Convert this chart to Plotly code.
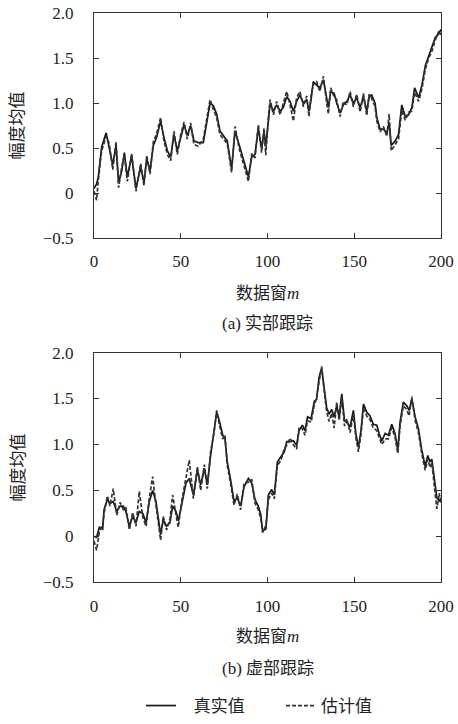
import plotly.graph_objects as go

# ---------------- data ----------------
m_a = [0, 1.5, 2.5, 4.4, 7, 8.8, 10.8, 12.7, 14.2, 16, 17.5, 19.2, 21.7, 24.2, 26.9, 28.8,
       30.4, 32.3, 34.2, 36.1, 38.4, 40.3, 42.3, 44.2, 46.1, 48, 49.9, 51.9, 53.8, 55.7,
       57.6, 60.1, 63, 64.6, 66.9, 68.8, 70.7, 72.6, 74.5, 76.8, 79.3, 81.3, 83.6, 86.1,
       89, 90.9, 92.8, 94.7, 96.6, 98, 99, 100.5, 101.5, 103.4, 105.3, 107.2, 109.1, 111.1,
       113, 114.9, 116.8, 118.7, 120.7, 122.6, 123.9, 125.1, 126.4, 128.3, 130.2, 132.2,
       134.1, 135.1, 136.4, 138.4, 139.9, 141.8, 143.7, 145.7, 147.6, 149.5, 151.4, 153.4,
       155.3, 157.2, 158.6, 160.1, 162, 163, 164.9, 166.8, 168.8, 170.1, 171.3, 173.6,
       175.5, 177.4, 179.4, 181.3, 183.2, 184.8, 187.1, 189, 191, 192.9, 194.8, 196.7,
       198.7, 200]
true_a = [0.05, 0.10, 0.18, 0.51, 0.67, 0.51, 0.31, 0.53, 0.11, 0.25, 0.45, 0.18, 0.41, 0.05,
          0.29, 0.12, 0.38, 0.25, 0.53, 0.62, 0.80, 0.62, 0.47, 0.40, 0.65, 0.47, 0.60, 0.76,
          0.64, 0.75, 0.58, 0.56, 0.56, 0.76, 1.00, 0.97, 0.88, 0.69, 0.64, 0.58, 0.27, 0.69,
          0.54, 0.36, 0.18, 0.40, 0.43, 0.72, 0.50, 0.68, 0.52, 0.80, 1.00, 0.91, 0.98, 0.91,
          0.95, 1.07, 1.02, 0.91, 1.02, 1.09, 1.00, 1.04, 0.91, 1.04, 1.24, 1.20, 1.17, 1.26,
          1.04, 0.95, 1.13, 1.11, 1.00, 0.89, 0.98, 1.02, 1.09, 1.00, 1.06, 0.95, 1.07, 0.91,
          1.07, 1.09, 1.00, 0.84, 0.71, 0.71, 0.67, 0.78, 0.53, 0.58, 0.65, 0.98, 0.85, 0.87,
          0.95, 1.17, 1.06, 1.20, 1.42, 1.53, 1.62, 1.73, 1.77, 1.82]
est_a = [0.02, -0.08, 0.15, 0.47, 0.63, 0.55, 0.26, 0.57, 0.06, 0.29, 0.42, 0.13, 0.44, 0.02,
         0.33, 0.08, 0.42, 0.21, 0.57, 0.66, 0.84, 0.58, 0.43, 0.36, 0.69, 0.43, 0.64, 0.79,
         0.60, 0.78, 0.54, 0.52, 0.60, 0.80, 1.04, 0.93, 0.84, 0.65, 0.60, 0.55, 0.23, 0.74,
         0.50, 0.32, 0.13, 0.44, 0.39, 0.76, 0.45, 0.72, 0.42, 0.84, 1.04, 0.87, 1.02, 0.87,
         0.99, 1.13, 0.98, 0.80, 1.06, 1.13, 0.96, 1.08, 0.85, 1.08, 1.21, 1.24, 1.13, 1.30,
         1.00, 0.88, 1.17, 1.07, 1.04, 0.85, 1.02, 0.98, 1.13, 0.96, 1.10, 0.90, 1.11, 0.86,
         1.10, 1.05, 0.96, 0.80, 0.68, 0.74, 0.63, 0.88, 0.47, 0.54, 0.60, 0.92, 0.81, 0.90,
         0.91, 1.12, 1.02, 1.16, 1.38, 1.50, 1.58, 1.70, 1.80, 1.76]

m_b = [0, 1.5, 3.1, 5, 5.8, 7.7, 9.2, 11.1, 13.1, 15, 16.9, 18.4, 20.4, 22.3, 24.2, 26.1,
       28.1, 30, 31.9, 33.8, 35.7, 37.1, 38.4, 39.9, 41.8, 43.8, 45.3, 47.3, 48.6, 50.5,
       53, 54.9, 57.3, 59.6, 61.5, 63.6, 65.3, 67.2, 69.2, 70.7, 72.2, 74.2, 75.5, 76.8,
       78.8, 80.7, 82.6, 84.5, 86.5, 89, 90.9, 92.8, 94.7, 96.1, 97.2, 99.1, 100.5, 102.4,
       103.9, 105.7, 107.8, 109.7, 111.1, 113, 114.9, 116.8, 118.2, 120.1, 121.6, 123.1,
       125.1, 127, 128.3, 129.7, 131.2, 132.8, 134.1, 135.5, 137, 138.4, 139.9, 141.3,
       142.8, 144.4, 145.7, 147.6, 149.5, 150.9, 152.4, 153.9, 155.3, 157.2, 159.1, 161,
       163, 164.3, 165.9, 167.8, 169.7, 171.6, 173.5, 175.1, 176.4, 178.3, 180.3, 181.6,
       183.2, 185.1, 187, 188.9, 190.9, 192.4, 193.7, 194.7, 196.3, 197.6, 199, 200]
true_b = [0.00, -0.01, 0.10, 0.08, 0.29, 0.40, 0.36, 0.38, 0.27, 0.33, 0.33, 0.27, 0.11, 0.22,
          0.15, 0.27, 0.25, 0.15, 0.38, 0.50, 0.38, 0.20, 0.02, 0.18, 0.11, 0.15, 0.33, 0.27,
          0.17, 0.34, 0.58, 0.63, 0.45, 0.72, 0.56, 0.74, 0.56, 0.88, 1.17, 1.35, 1.26, 1.10,
          1.06, 0.81, 0.61, 0.38, 0.42, 0.33, 0.54, 0.63, 0.58, 0.40, 0.33, 0.24, 0.06, 0.08,
          0.45, 0.51, 0.45, 0.81, 0.87, 0.92, 1.03, 1.03, 1.04, 0.99, 1.15, 1.21, 1.15, 1.30,
          1.28, 1.47, 1.49, 1.73, 1.83, 1.60, 1.40, 1.33, 1.38, 1.30, 1.42, 1.30, 1.55, 1.26,
          1.24, 1.19, 1.37, 1.12, 0.97, 1.15, 1.44, 1.35, 1.31, 1.22, 1.21, 1.12, 1.04, 1.12,
          1.10, 1.22, 1.12, 0.94, 1.24, 1.46, 1.42, 1.37, 1.49, 1.30, 1.17, 0.94, 0.76, 0.88,
          0.81, 0.84, 0.58, 0.42, 0.38, 0.42]
est_b = [-0.05, -0.15, 0.05, 0.13, 0.25, 0.44, 0.33, 0.52, 0.23, 0.37, 0.29, 0.31, 0.07, 0.26,
         0.11, 0.49, 0.21, 0.11, 0.42, 0.65, 0.34, 0.16, -0.04, 0.22, 0.07, 0.19, 0.45, 0.23,
         0.10, 0.38, 0.62, 0.83, 0.41, 0.76, 0.50, 0.78, 0.52, 0.92, 1.13, 1.37, 1.22, 1.06,
         1.10, 0.77, 0.57, 0.34, 0.46, 0.29, 0.58, 0.59, 0.62, 0.36, 0.29, 0.20, 0.04, 0.12,
         0.40, 0.47, 0.41, 0.77, 0.83, 0.96, 0.99, 1.07, 1.00, 0.95, 1.19, 1.17, 1.10, 1.26,
         1.24, 1.43, 1.51, 1.69, 1.85, 1.56, 1.36, 1.25, 1.34, 1.18, 1.46, 1.26, 1.51, 1.20,
         1.28, 1.13, 1.33, 1.08, 0.92, 1.11, 1.40, 1.31, 1.27, 1.18, 1.15, 1.08, 1.00, 1.06,
         1.06, 1.18, 1.08, 0.90, 1.20, 1.42, 1.38, 1.31, 1.52, 1.26, 1.13, 0.90, 0.72, 0.84,
         0.75, 0.80, 0.52, 0.30, 0.47, 0.35]

y_ticks = [-0.5, 0, 0.5, 1.0, 1.5, 2.0]
y_labels = ["\u22120.5", "0", "0.5", "1.0", "1.5", "2.0"]
x_ticks = [0, 50, 100, 150, 200]

# ---------------- figure ----------------
W, H = 458, 724
SERIF = "Liberation Serif, Noto Sans CJK SC"
solid_col = "#1a1a1a"
dash_col = "#333333"

fig = go.Figure()
fig.add_trace(go.Scatter(x=m_a, y=true_a, mode="lines", name="\u00a0\u00a0\u00a0真实值",
                         line=dict(color=solid_col, width=1.7), xaxis="x", yaxis="y"))
fig.add_trace(go.Scatter(x=m_a, y=est_a, mode="lines", name="估计值",
                         line=dict(color=dash_col, width=1.7, dash="4px,2px"), xaxis="x", yaxis="y"))
fig.add_trace(go.Scatter(x=m_b, y=true_b, mode="lines", showlegend=False,
                         line=dict(color=solid_col, width=1.7), xaxis="x2", yaxis="y2"))
fig.add_trace(go.Scatter(x=m_b, y=est_b, mode="lines", showlegend=False,
                         line=dict(color=dash_col, width=1.7, dash="4px,2px"), xaxis="x2", yaxis="y2"))

xdom = [94 / W, 441 / W]
ydom_a = [1 - 240.3 / H, 1 - 13.4 / H]
ydom_b = [1 - 588 / H, 1 - 356 / H]

axis_common = dict(showline=True, linecolor="#333", linewidth=1, mirror="ticks",
                   ticks="inside", ticklen=5, tickcolor="#333", showgrid=False,
                   zeroline=False, automargin=False,
                   tickfont=dict(family=SERIF, size=17, color="#222"))

fig.update_layout(
    width=W, height=H,
    margin=dict(l=0, r=0, t=0, b=0),
    paper_bgcolor="white", plot_bgcolor="white",
    font=dict(family=SERIF, color="#222"),
    xaxis=dict(domain=xdom, range=[0, 200], tickvals=x_ticks, anchor="y",
               ticklabelstandoff=8, **axis_common),
    yaxis=dict(domain=ydom_a, range=[-0.5, 2.0], tickvals=y_ticks, ticktext=y_labels,
               anchor="x", ticklabelstandoff=16, **axis_common),
    xaxis2=dict(domain=xdom, range=[0, 200], tickvals=x_ticks, anchor="y2",
                ticklabelstandoff=8, **axis_common),
    yaxis2=dict(domain=ydom_b, range=[-0.5, 2.0], tickvals=y_ticks, ticktext=y_labels,
                anchor="x2", ticklabelstandoff=16, **axis_common),
    legend=dict(orientation="h", x=(141 / W), xanchor="left", y=1 - 713 / H, yanchor="middle",
                font=dict(family=SERIF, size=17, color="#222"), itemwidth=30,
                entrywidth=95, bgcolor="rgba(0,0,0,0)"),
    showlegend=True,
)

xc = (xdom[0] + xdom[1]) / 2
ann = [
    dict(text="数据窗<i>m</i>", x=xc, y=1 - 296 / H),
    dict(text="(a) 实部跟踪", x=xc, y=1 - 327 / H),
    dict(text="数据窗<i>m</i>", x=xc, y=1 - 643 / H),
    dict(text="(b) 虚部跟踪", x=xc, y=1 - 675 / H),
]
for a in ann:
    fig.add_annotation(xref="paper", yref="paper", showarrow=False, xanchor="center",
                       yanchor="middle", font=dict(family=SERIF, size=17, color="#222"), **a)
for yc in [(ydom_a[0] + ydom_a[1]) / 2, (ydom_b[0] + ydom_b[1]) / 2]:
    fig.add_annotation(text="幅度均值", xref="paper", yref="paper", x=18 / W, y=yc,
                       showarrow=False, textangle=-90, xanchor="center", yanchor="middle",
                       font=dict(family=SERIF, size=17, color="#222"))

fig.write_html("out.html")
